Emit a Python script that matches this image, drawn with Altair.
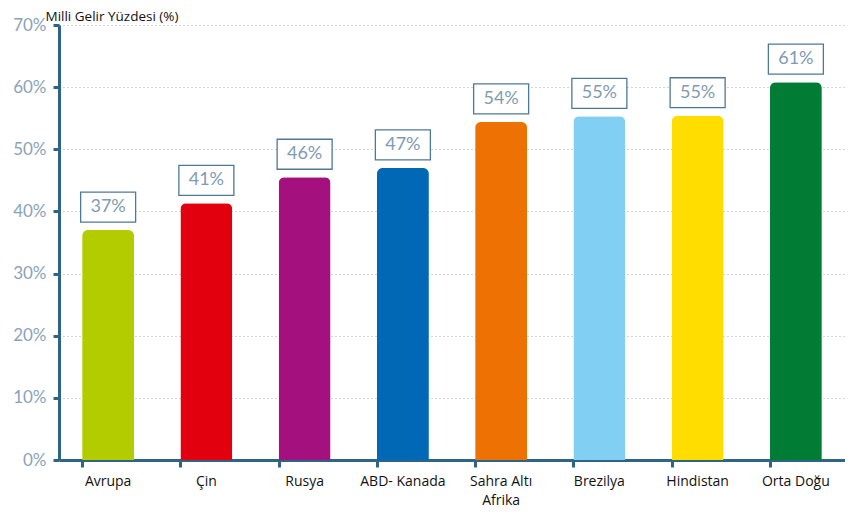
import altair as alt
import pandas as pd

regions = ["Avrupa", "Çin", "Rusya", "ABD- Kanada", "Sahra Altı Afrika", "Brezilya", "Hindistan", "Orta Doğu"]
values = [37.0, 41.3, 45.5, 47.0, 54.4, 55.3, 55.4, 60.8]
labels = ["37%", "41%", "46%", "47%", "54%", "55%", "55%", "61%"]
colors = ["#b3cc00", "#e2000f", "#a4107e", "#0068b4", "#ee7203", "#82cff4", "#ffdd00", "#007c34"]

df = pd.DataFrame({"region": regions, "value": values, "label": labels})

axis_col = "#2e6584"

x = alt.X("region:N", sort=regions, title=None,
          scale=alt.Scale(paddingInner=0.48, paddingOuter=0.24),
          axis=alt.Axis(labelAngle=0, labelFont="Open Sans", labelFontSize=14, labelColor="#111111",
                        labelPadding=7, labelLineHeight=19, domainColor=axis_col, domainWidth=3,
                        tickColor=axis_col, tickWidth=3, tickSize=7, bandPosition=0, grid=False,
                        labelExpr="datum.label == 'Sahra Altı Afrika' ? ['Sahra Altı', 'Afrika'] : datum.label"))
y = alt.Y("value:Q", title="Milli Gelir Yüzdesi (%)",
          scale=alt.Scale(domain=[0, 70], nice=False),
          axis=alt.Axis(values=[0, 10, 20, 30, 40, 50, 60, 70], labelExpr="datum.value + '%'",
                        labelFont="Lato", labelFontSize=17, labelColor="#8aa3b8", labelPadding=7,
                        domainColor=axis_col, domainWidth=3, tickColor=axis_col, tickWidth=3, tickSize=6,
                        grid=True, gridColor="#a8a8a8", gridDash=[1, 3], gridWidth=1,
                        titleAngle=0, titleAlign="left", titleBaseline="middle", titleX=-14, titleY=-9,
                        titleFont="Open Sans", titleFontSize=13.5, titleFontWeight="normal", titleColor="#111111"))

color = alt.Color("region:N", sort=regions, scale=alt.Scale(domain=regions, range=colors), legend=None)

bars = alt.Chart(df).mark_bar(width=52, cornerRadiusTopLeft=6, cornerRadiusTopRight=6).encode(x=x, y=y, color=color)

boxes = alt.Chart(df).mark_point(
    shape="M-1,-0.545L1,-0.545L1,0.545L-1,0.545Z", size=3025, filled=True, fill="white",
    stroke="#4f7896", strokeWidth=1.3, opacity=1, yOffset=-23
).encode(x=alt.X("region:N", sort=regions), y=alt.Y("value:Q"))

texts = alt.Chart(df).mark_text(font="Lato", fontSize=18, color="#7f9bb3", baseline="middle",
                                align="center", dy=-23).encode(
    x=alt.X("region:N", sort=regions), y=alt.Y("value:Q"), text="label:N")

chart = alt.layer(bars, boxes, texts).properties(
    width=786, height=435,
    autosize=alt.AutoSizeParams(type="none"),
    padding={"left": 51, "top": 17, "right": 0, "bottom": 52},
).configure_view(stroke=None)

chart.save("out.html", embed_options={"renderer": "svg", "actions": False})
